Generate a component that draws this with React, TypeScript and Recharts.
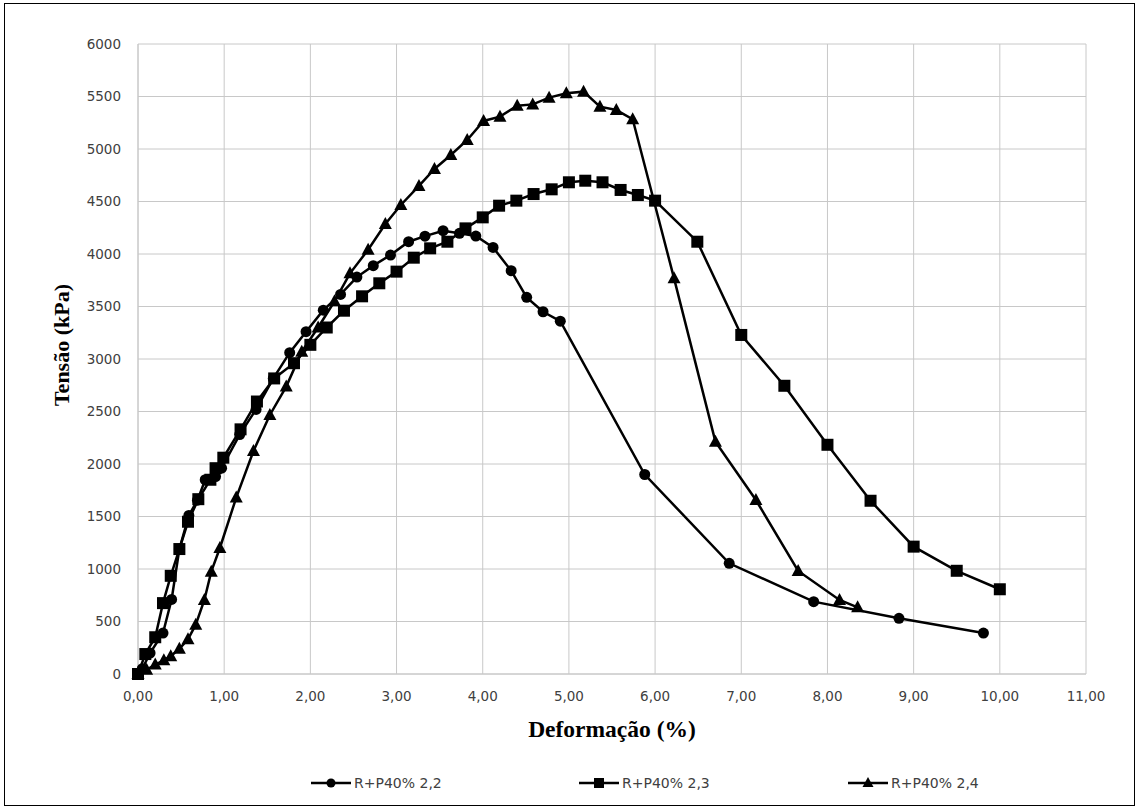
import React from 'react';
import { LineChart, Line, XAxis, YAxis, CartesianGrid, Legend } from 'recharts';

type P = { x: number; y: number };
const toPts = (a: number[][]): P[] => a.map(([x, y]) => ({ x, y }));

// R+P40% 2,2 (circles)
const serie22 = toPts([
  [0, 0], [0.05, 50], [0.14, 200], [0.29, 390], [0.39, 710], [0.48, 1190], [0.59, 1510], [0.69, 1655],
  [0.78, 1850], [0.9, 1880], [0.97, 1960], [1.18, 2280], [1.37, 2520], [1.57, 2815], [1.76, 3060],
  [1.95, 3260], [2.15, 3465], [2.35, 3615], [2.54, 3780], [2.73, 3889], [2.93, 3990], [3.14, 4117],
  [3.33, 4170], [3.54, 4222], [3.73, 4197], [3.92, 4171], [4.12, 4063], [4.33, 3841], [4.51, 3587],
  [4.7, 3450], [4.9, 3360], [5.88, 1900], [6.86, 1054], [7.84, 689], [8.83, 530], [9.81, 390],
]);

// R+P40% 2,3 (squares)
const serie23 = toPts([
  [0, 0], [0.085, 190], [0.2, 350], [0.29, 675], [0.38, 935], [0.48, 1190], [0.58, 1450], [0.7, 1665],
  [0.84, 1850], [0.9, 1960], [0.99, 2060], [1.19, 2330], [1.38, 2595], [1.58, 2815], [1.81, 2960],
  [2.0, 3135], [2.19, 3300], [2.39, 3460], [2.6, 3597], [2.8, 3721], [3.0, 3832], [3.2, 3965],
  [3.39, 4054], [3.59, 4117], [3.8, 4244], [4.0, 4349], [4.19, 4460], [4.39, 4508], [4.59, 4571],
  [4.8, 4616], [5.0, 4683], [5.19, 4698], [5.39, 4683], [5.6, 4610], [5.8, 4562], [6.0, 4508],
  [6.49, 4117], [7.0, 3229], [7.5, 2745], [8.0, 2183], [8.5, 1650], [9.0, 1213], [9.5, 983], [10.0, 807],
]);

// R+P40% 2,4 (triangles)
const serie24 = toPts([
  [0, 0], [0.1, 40], [0.2, 90], [0.3, 130], [0.38, 170], [0.48, 240], [0.58, 330], [0.67, 470],
  [0.77, 705], [0.85, 975], [0.95, 1200], [1.14, 1680], [1.34, 2124], [1.53, 2467], [1.72, 2737],
  [1.9, 3070], [2.09, 3300], [2.28, 3550], [2.46, 3816], [2.67, 4040], [2.87, 4286], [3.05, 4467],
  [3.26, 4648], [3.44, 4810], [3.63, 4943], [3.82, 5086], [4.01, 5267], [4.2, 5308], [4.4, 5413],
  [4.58, 5425], [4.77, 5489], [4.97, 5530], [5.17, 5546], [5.36, 5403], [5.55, 5371], [5.74, 5283],
  [6.22, 3768], [6.7, 2213], [7.17, 1657], [7.66, 981], [8.14, 705], [8.35, 635],
]);

const xTicks = [0, 1, 2, 3, 4, 5, 6, 7, 8, 9, 10, 11];
const yTicks = [0, 500, 1000, 1500, 2000, 2500, 3000, 3500, 4000, 4500, 5000, 5500, 6000];
const seriesNames = ['R+P40% 2,2', 'R+P40% 2,3', 'R+P40% 2,4'];
const xTitle = 'Deformação (%)';
const yTitle = 'Tensão (kPa)';

const fmtX = (v: number) => v.toFixed(2).replace('.', ',');
const tickFont = { fontFamily: '"DejaVu Sans", sans-serif', fontSize: 13.5, fill: '#404040' };

const circleDot = (props: any) => {
  const { cx, cy, key } = props;
  if (cx == null || cy == null) return <g key={key} />;
  return <circle key={key} cx={cx} cy={cy} r={5.5} fill="#000" />;
};
const squareDot = (props: any) => {
  const { cx, cy, key } = props;
  if (cx == null || cy == null) return <g key={key} />;
  return <rect key={key} x={cx - 6} y={cy - 6} width={12} height={12} fill="#000" />;
};
const triangleDot = (props: any) => {
  const { cx, cy, key } = props;
  if (cx == null || cy == null) return <g key={key} />;
  return (
    <polygon key={key} points={`${cx},${cy - 7} ${cx - 6.5},${cy + 5} ${cx + 6.5},${cy + 5}`} fill="#000" />
  );
};

const legendStarts = [311, 579, 848];

const LegendContent = () => (
  <svg width={1140} height={24} style={{ display: 'block' }}>
    {seriesNames.map((name, i) => {
      const x0 = legendStarts[i];
      const cy = 12;
      const mx = x0 + 20;
      return (
        <g key={name}>
          <line x1={x0} y1={cy} x2={x0 + 40} y2={cy} stroke="#000" strokeWidth={2.5} />
          {i === 0 && <circle cx={mx} cy={cy} r={4.5} fill="#000" />}
          {i === 1 && <rect x={mx - 5} y={cy - 5} width={10} height={10} fill="#000" />}
          {i === 2 && <polygon points={`${mx},${cy - 6} ${mx - 5.5},${cy + 4} ${mx + 5.5},${cy + 4}`} fill="#000" />}
          <text x={x0 + 43} y={cy + 5} style={{ fontFamily: '"DejaVu Sans", sans-serif', fontSize: 14 }} fill="#404040">
            {name}
          </text>
        </g>
      );
    })}
  </svg>
);

const YTitle = () => (
  <text
    x={69}
    y={345}
    transform="rotate(-90 69 345)"
    textAnchor="middle"
    style={{ fontFamily: '"Liberation Serif", "Times New Roman", serif', fontWeight: 'bold', fontSize: 22 }}
    fill="#000"
  >
    {yTitle}
  </text>
);

const XTitle = () => (
  <text
    x={612}
    y={737}
    textAnchor="middle"
    style={{ fontFamily: '"Liberation Serif", "Times New Roman", serif', fontWeight: 'bold', fontSize: 23.5 }}
    fill="#000"
  >
    {xTitle}
  </text>
);

export default function App() {
  return (
    <div style={{ position: 'absolute', left: 0, top: 0, width: 1140, height: 811, background: '#fff' }}>
      <LineChart
        width={1140}
        height={811}
        margin={{ top: 44, right: 54, left: 0, bottom: 74 }}
      >
        <CartesianGrid stroke="#c8c8c8" strokeWidth={1} />
        <XAxis
          type="number"
          dataKey="x"
          domain={[0, 11]}
          ticks={xTicks}
          tickFormatter={fmtX}
          stroke="#c8c8c8"
          tickLine={false}
          tickSize={0}
          tickMargin={17}
          tick={tickFont}
          height={63}
          label={<XTitle />}
        />
        <YAxis
          type="number"
          domain={[0, 6000]}
          ticks={yTicks}
          stroke="#c8c8c8"
          tickLine={false}
          tickSize={0}
          tickMargin={17}
          tick={tickFont}
          width={138}
          label={<YTitle />}
        />
        <Legend
          layout="horizontal"
          verticalAlign="middle"
          align="center"
          wrapperStyle={{ position: 'absolute', top: 771, left: 0, width: 1140, height: 24 }}
          content={<LegendContent />}
        />
        <Line data={serie22} dataKey="y" name={seriesNames[0]} stroke="#000" strokeWidth={2.5} dot={circleDot} activeDot={false} isAnimationActive={false} />
        <Line data={serie23} dataKey="y" name={seriesNames[1]} stroke="#000" strokeWidth={2.5} dot={squareDot} activeDot={false} isAnimationActive={false} />
        <Line data={serie24} dataKey="y" name={seriesNames[2]} stroke="#000" strokeWidth={2.5} dot={triangleDot} activeDot={false} isAnimationActive={false} />
      </LineChart>
      <div
        style={{
          position: 'absolute',
          left: 4,
          top: 3,
          width: 1129,
          height: 801,
          border: '1.5px solid #000',
          pointerEvents: 'none',
        }}
      />
    </div>
  );
}
